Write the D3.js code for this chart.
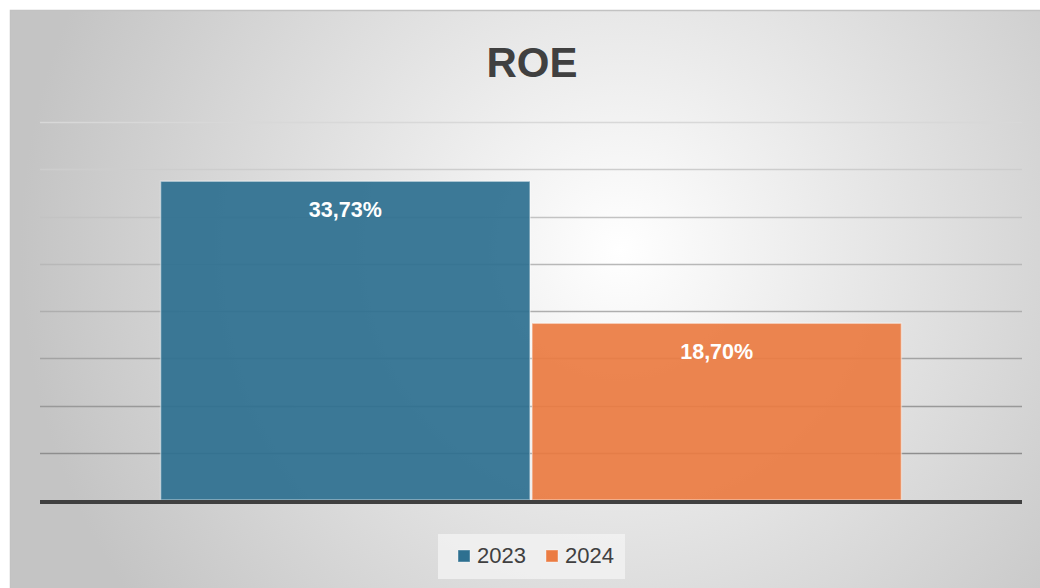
<!DOCTYPE html>
<html>
<head>
<meta charset="utf-8">
<script src="https://cdn.jsdelivr.net/npm/d3@7"></script>
<style>
  html, body { margin: 0; padding: 0; background: #fff; }
  svg { display: block; font-family: "Liberation Sans", Arial, sans-serif; }
</style>
</head>
<body>
<div id="chart"></div>
<script>
// chart data
const series = ["2023", "2024"];
const values = [33.73, 18.70];
const labels = ["33,73%", "18,70%"];
const colors = ["#2e7090", "#eb7c43"];
const yTicks = [0, 5, 10, 15, 20, 25, 30, 35, 40];

const width = 1040, height = 588;
const plot = {left: 40, right: 1022, top: 122, bottom: 500};

const svg = d3.select("#chart").append("svg")
    .attr("width", width)
    .attr("height", height);

const defs = svg.append("defs");
const bg = defs.append("radialGradient")
    .attr("id", "bg")
    .attr("gradientUnits", "userSpaceOnUse")
    .attr("cx", 620).attr("cy", 250).attr("r", 600);
bg.append("stop").attr("offset", "0%").attr("stop-color", "#ffffff");
bg.append("stop").attr("offset", "100%").attr("stop-color", "#c4c4c4");

// background panel with thin border on top/left
svg.append("rect")
    .attr("x", 10).attr("y", 10)
    .attr("width", width - 10).attr("height", height - 10)
    .attr("fill", "url(#bg)");
svg.append("path")
    .attr("d", `M10.5,${height} V10.5 H${width}`)
    .attr("fill", "none")
    .attr("stroke", "#c2c2c2")
    .attr("stroke-width", 1.5);

const y = d3.scaleLinear().domain([0, 40]).range([plot.bottom, plot.top]);
const x = d3.scaleBand().domain(series)
    .range([plot.left, plot.right])
    .paddingInner(0)
    .paddingOuter(0.322);

// gridlines, lighter toward the top
const gridColor = d3.scaleLinear().domain([40, 5]).range(["#d8d8d8", "#8e8e8e"]);
svg.append("g")
    .selectAll("line")
    .data(yTicks.filter(d => d > 0))
    .join("line")
    .attr("x1", plot.left).attr("x2", plot.right)
    .attr("y1", d => Math.round(y(d)) + 0.5)
    .attr("y2", d => Math.round(y(d)) + 0.5)
    .attr("stroke", d => gridColor(d))
    .attr("stroke-width", 1.3);

// bars
svg.append("g")
    .selectAll("rect")
    .data(values)
    .join("rect")
    .attr("x", (d, i) => x(series[i]) + 1)
    .attr("y", d => y(d))
    .attr("width", x.bandwidth() - 2)
    .attr("height", d => y(0) - y(d))
    .attr("fill", (d, i) => colors[i])
    .attr("fill-opacity", 0.93)
    .attr("stroke", "#ffffff")
    .attr("stroke-opacity", 0.45)
    .attr("stroke-width", 1.5);

// value labels
svg.append("g")
    .selectAll("text")
    .data(values)
    .join("text")
    .attr("x", (d, i) => x(series[i]) + x.bandwidth() / 2)
    .attr("y", d => y(d) + 36)
    .attr("text-anchor", "middle")
    .attr("fill", "#ffffff")
    .attr("font-weight", "bold")
    .attr("font-size", 21.5)
    .text((d, i) => labels[i]);

// baseline
svg.append("line")
    .attr("x1", plot.left).attr("x2", plot.right)
    .attr("y1", y(0) + 2).attr("y2", y(0) + 2)
    .attr("stroke", "#404040")
    .attr("stroke-width", 4);

// title
svg.append("text")
    .attr("x", 532).attr("y", 77)
    .attr("text-anchor", "middle")
    .attr("fill", "#404040")
    .attr("font-weight", "bold")
    .attr("font-size", 42)
    .text("ROE");

// legend
const legend = svg.append("g");
legend.append("rect")
    .attr("x", 438).attr("y", 534)
    .attr("width", 187).attr("height", 45)
    .attr("fill", "#f2f2f2")
    .attr("fill-opacity", 0.8);
const items = legend.selectAll("g")
    .data(series)
    .join("g")
    .attr("transform", (d, i) => `translate(${458 + i * 88},550)`);
items.append("rect")
    .attr("width", 12).attr("height", 12)
    .attr("fill", (d, i) => colors[i])
    .attr("stroke", "#ffffff")
    .attr("stroke-opacity", 0.4);
items.append("text")
    .attr("x", 19).attr("y", 13)
    .attr("fill", "#404040")
    .attr("font-size", 22)
    .text(d => d);
</script>
</body>
</html>
